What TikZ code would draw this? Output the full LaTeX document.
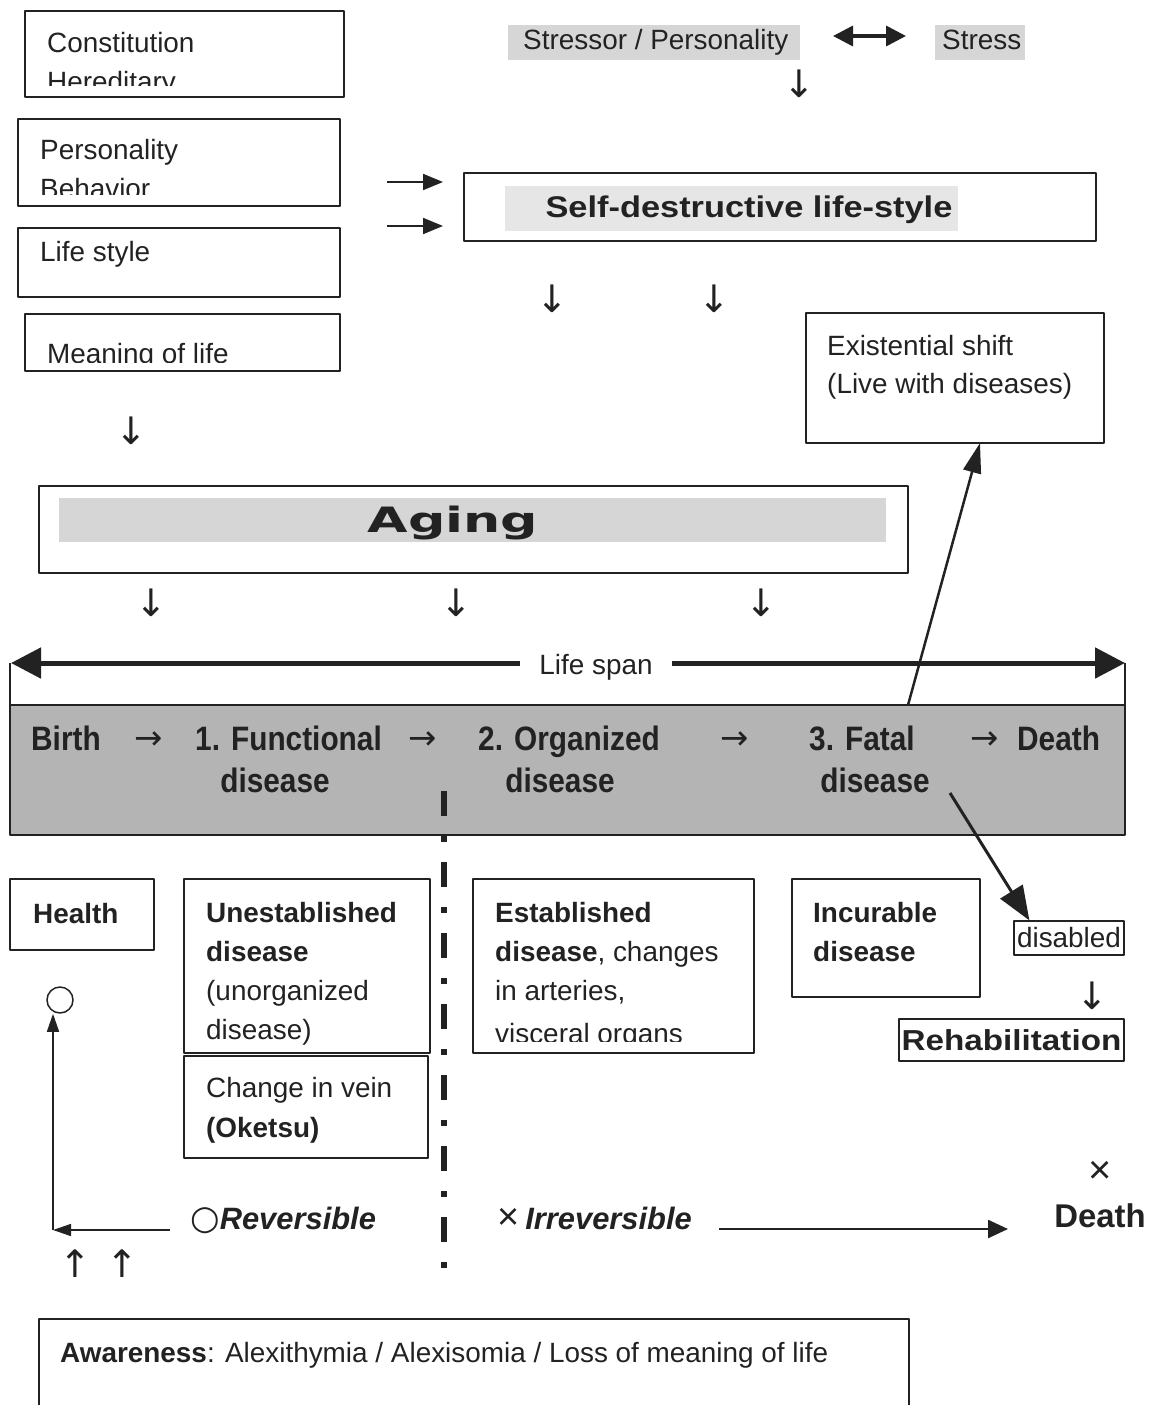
\documentclass[tikz,border=0pt]{standalone}
\usepackage{fontspec}
\setmainfont{Liberation Sans}
\newfontfamily\condfont[FakeStretch=0.88]{Liberation Sans}
\newfontfamily\widefont[FakeStretch=1.15]{Liberation Sans}
\newfontfamily\agingfont[FakeStretch=1.5]{DejaVu Sans}
\newfontfamily\symfont{DejaVu Sans}
\usetikzlibrary{arrows.meta}
\definecolor{ink}{RGB}{34,34,34}
\definecolor{bandgray}{RGB}{180,180,180}
\definecolor{haze}{RGB}{214,214,214}
\definecolor{palehaze}{RGB}{230,230,230}
\begin{document}
\begin{tikzpicture}[>=latex,line join=bevel,x=1bp,y=-1bp,
  box/.style={draw=ink,line width=1.5bp,inner sep=0pt,outer sep=0pt,anchor=north west},
  txt/.style={inner sep=0pt,anchor=base west,text=ink,font=\fontsize{28}{34}\selectfont},
  btxt/.style={txt,font=\fontsize{28}{34}\selectfont\bfseries},
  bandtxt/.style={inner sep=0pt,anchor=base west,text=ink,font=\condfont\fontsize{34}{40}\selectfont\bfseries},
  glyph/.style={inner sep=0pt,text=ink,font=\symfont\fontsize{38}{38}\selectfont},
  bandglyph/.style={inner sep=0pt,text=ink,font=\symfont\fontsize{34}{34}\selectfont},
  flow/.style={-{Triangle[length=20bp,width=16bp]},line width=2bp,draw=ink},
  thinflow/.style={-{Triangle[length=18bp,width=12bp]},line width=1.5bp,draw=ink},
  spanarrow/.style={-{Triangle[length=30bp,width=30bp]},line width=5bp,draw=ink},
  ]
  \useasboundingbox (0,0) rectangle (1153,1405);
%%
  % Node: Constitution
\begin{scope}
  \node[box,minimum width=319bp,minimum height=86bp] (constitution) at (25,11) {};
  \clip (25,11) rectangle (344,86);
  \node[txt] (constitution-a) at (47,53) {Constitution};
  \node[txt] (constitution-b) at (47,92) {Hereditary};
\end{scope}
  % Node: Personality
\begin{scope}
  \node[box,minimum width=322bp,minimum height=87bp] (personality) at (18,119) {};
  \clip (18,119) rectangle (340,195);
  \node[txt] (personality-a) at (40,160) {Personality};
  \node[txt] (personality-b) at (40,199) {Behavior};
\end{scope}
  % Node: Life style
  \node[box,minimum width=322bp,minimum height=69bp] (lifestyle) at (18,228) {};
  \node[txt] (lifestyle-a) at (40,262) {Life style};
  % Node: Meaning of life
\begin{scope}
  \node[box,minimum width=315bp,minimum height=57bp] (meaning) at (25,314) {};
  \clip (25,314) rectangle (340,362);
  \node[txt] (meaning-a) at (47,363) {Meaning of life};
\end{scope}
  % Node: Stressor / Personality <-> Stress
  \fill[haze] (508,25) rectangle (800,60);
  \fill[haze] (935,25) rectangle (1025,60);
  \node[txt] (stressor) at (523,50) {Stressor / Personality};
  \node[txt] (stress) at (942,50) {Stress};
  \coordinate (sp-a) at (833,36);
  \coordinate (sp-b) at (906,36);
  \draw[{Triangle[length=20bp,width=20bp]}-{Triangle[length=20bp,width=20bp]},line width=3.5bp,draw=ink] (sp-a) -- (sp-b);
  \node[glyph] (down-stress) at (799,84) {↓};
  % Node: Self-destructive life-style
\begin{scope}
  \node[box,minimum width=632bp,minimum height=68bp] (selfdestr) at (464,173) {};
  \fill[palehaze] (505,186) rectangle (958,231);
  \node[inner sep=0pt,anchor=base,text=ink,font=\widefont\fontsize{30}{34}\selectfont\bfseries] (selfdestr-a) at (749,218) {Self-destructive life-style};
\end{scope}
  % Edge: Personality -> Self-destructive life-style
  \coordinate (in-a) at (387,182);
  \coordinate (in-a-end) at (443,182);
  \coordinate (in-b) at (387,226);
  \coordinate (in-b-end) at (443,226);
  \draw[flow] (in-a) -- (in-a-end);
  \draw[flow] (in-b) -- (in-b-end);
  \node[glyph] (down-self-a) at (552,299) {↓};
  \node[glyph] (down-self-b) at (714,299) {↓};
  % Node: Existential shift
  \node[box,minimum width=298bp,minimum height=130bp] (existential) at (806,313) {};
  \node[txt] (existential-a) at (827,355) {Existential shift};
  \node[txt] (existential-b) at (827,393) {(Live with diseases)};
  \node[glyph] (down-meaning) at (131,431) {↓};
  % Node: Aging
\begin{scope}
  \node[box,minimum width=869bp,minimum height=87bp] (aging) at (39,486) {};
  \fill[haze] (59,498) rectangle (886,542);
  \node[inner sep=0pt,anchor=base,text=ink,font=\agingfont\fontsize{35}{40}\selectfont\bfseries] (aging-a) at (453,532) {Aging};
\end{scope}
  \node[glyph] (down-aging-a) at (151,603) {↓};
  \node[glyph] (down-aging-b) at (456,603) {↓};
  \node[glyph] (down-aging-c) at (761,603) {↓};
  % Node: Life span
  \node[txt,anchor=base,inner xsep=19bp] (lifespan) at (596,674) {Life span};
  \coordinate (span-l) at (11,663);
  \coordinate (span-r) at (1125,663);
  \draw[spanarrow] (lifespan.west |- span-l) -- (span-l);
  \draw[spanarrow] (lifespan.east |- span-r) -- (span-r);
  \draw[ink,line width=1.2bp] (10,663) -- (10,705);
  \draw[ink,line width=1.2bp] (1125,663) -- (1125,705);
  % Node: Birth -> Death band
\begin{scope}
  \node[box,fill=bandgray,minimum width=1115bp,minimum height=130bp] (band) at (10,705) {};
  \node[bandtxt] (birth) at (31,750) {Birth};
  \node[bandglyph] (band-arr-a) at (149,741) {→};
  \node[bandtxt] (functional) at (195,750) {1. Functional};
  \node[bandtxt,anchor=base] (functional-d) at (275,792) {disease};
  \node[bandglyph] (band-arr-b) at (423,741) {→};
  \node[bandtxt] (organized) at (478,750) {2. Organized};
  \node[bandtxt,anchor=base] (organized-d) at (560,792) {disease};
  \node[bandglyph] (band-arr-c) at (735,741) {→};
  \node[bandtxt] (fatal) at (809,750) {3. Fatal};
  \node[bandtxt,anchor=base] (fatal-d) at (875,792) {disease};
  \node[bandglyph] (band-arr-d) at (985,741) {→};
  \node[bandtxt] (band-death) at (1017,750) {Death};
\end{scope}
  % Edge: reversible | irreversible
  \draw[ink,line width=6bp,dash pattern=on 25bp off 20bp on 6bp off 20bp] (444,791) -- (444,1268);
  % Node: Health
  \node[box,minimum width=144bp,minimum height=71bp] (health) at (10,879) {};
  \node[btxt] (health-a) at (33,923) {Health};
  \node[draw=ink,circle,line width=1.5bp,minimum size=26bp,inner sep=0pt] (okmark) at (60,1000) {};
  % Node: Unestablished disease
  \node[box,minimum width=246bp,minimum height=174bp] (unestablished) at (184,879) {};
  \node[btxt] (unestablished-a) at (206,922) {Unestablished};
  \node[btxt] (unestablished-b) at (206,961) {disease};
  \node[txt] (unestablished-c) at (206,1000) {(unorganized};
  \node[txt] (unestablished-d) at (206,1039) {disease)};
  % Node: Change in vein
  \node[box,minimum width=244bp,minimum height=102bp] (oketsu) at (184,1056) {};
  \node[txt] (oketsu-a) at (206,1097) {Change in vein};
  \node[btxt] (oketsu-b) at (206,1137) {(Oketsu)};
  % Node: Established disease
\begin{scope}
  \node[box,minimum width=281bp,minimum height=174bp] (established) at (473,879) {};
  \node[btxt] (established-a) at (495,922) {Established};
  \node[txt] (established-b) at (495,961) {\textbf{disease}, changes};
  \node[txt] (established-c) at (495,1000) {in arteries,};
  \clip (473,879) rectangle (754,1041);
  \node[txt] (established-d) at (495,1043) {visceral organs};
\end{scope}
  % Node: Incurable disease
  \node[box,minimum width=188bp,minimum height=118bp] (incurable) at (792,879) {};
  \node[btxt] (incurable-a) at (813,922) {Incurable};
  \node[btxt] (incurable-b) at (813,961) {disease};
  % Node: disabled
  \node[draw=ink,line width=1.2bp,minimum width=110bp,minimum height=34bp,inner sep=0pt,text=ink,font=\fontsize{28}{34}\selectfont] (disabled) at (1069,938) {disabled};
  \node[glyph] (down-disabled) at (1092,996) {↓};
  % Node: Rehabilitation
  \node[draw=ink,line width=1.2bp,minimum width=225bp,minimum height=42bp,inner sep=0pt,text=ink,font=\widefont\fontsize{29}{34}\selectfont\bfseries] (rehab) at (1011.5,1040) {Rehabilitation};
  % Edge: band -> Existential shift
  \draw[-{Triangle[length=30bp,width=18bp]},line width=2.5bp,draw=ink] ([xshift=340.5bp]band.north) -- ([xshift=25bp]existential.south);
  % Edge: Fatal disease -> disabled
  \coordinate (fatal-out) at (950,793);
  \draw[-{Triangle[length=34bp,width=26bp]},line width=3bp,draw=ink] (fatal-out) -- ([xshift=16bp]disabled.north west);
  % Edge: Reversible -> Health
  \coordinate (rev-start) at (170,1230);
  \coordinate (rev-corner) at (53,1230);
  \draw[thinflow] (rev-start) -- (rev-corner);
  \draw[thinflow] (rev-corner) -- (rev-corner |- okmark.south);
  \node[glyph] (up-a) at (75,1264) {↑};
  \node[glyph] (up-b) at (122,1264) {↑};
  \node[txt,font=\fontsize{31}{34}\selectfont] (rev) at (190,1229) {{\symfont\fontsize{34}{34}\selectfont ○}\textbf{\textit{Reversible}}};
  % Edge: Irreversible -> Death
  \node[txt,font=\fontsize{31}{34}\selectfont] (irrev) at (497,1229) {{\fontsize{38}{38}\selectfont ×}\hspace{6bp}\textbf{\textit{Irreversible}}};
  \coordinate (irr-a) at (719,1229);
  \coordinate (irr-b) at (1008,1229);
  \draw[-{Triangle[length=20bp,width=18bp]},line width=2.5bp,draw=ink] (irr-a) -- (irr-b);
  \node[inner sep=0pt,text=ink,font=\fontsize{40}{40}\selectfont] (death-x) at (1100,1172) {×};
  \node[inner sep=0pt,anchor=base,text=ink,font=\fontsize{33}{36}\selectfont\bfseries] (death) at (1100,1227) {Death};
  % Node: Awareness
\begin{scope}
  \clip (0,0) rectangle (1153,1405);
  \node[box,minimum width=870bp,minimum height=100bp] (awareness) at (39,1319) {};
  \node[txt] (awareness-a) at (60,1362) {\textbf{Awareness}: Alexithymia / Alexisomia / Loss of meaning of life};
\end{scope}
%
\end{tikzpicture}
\end{document}
